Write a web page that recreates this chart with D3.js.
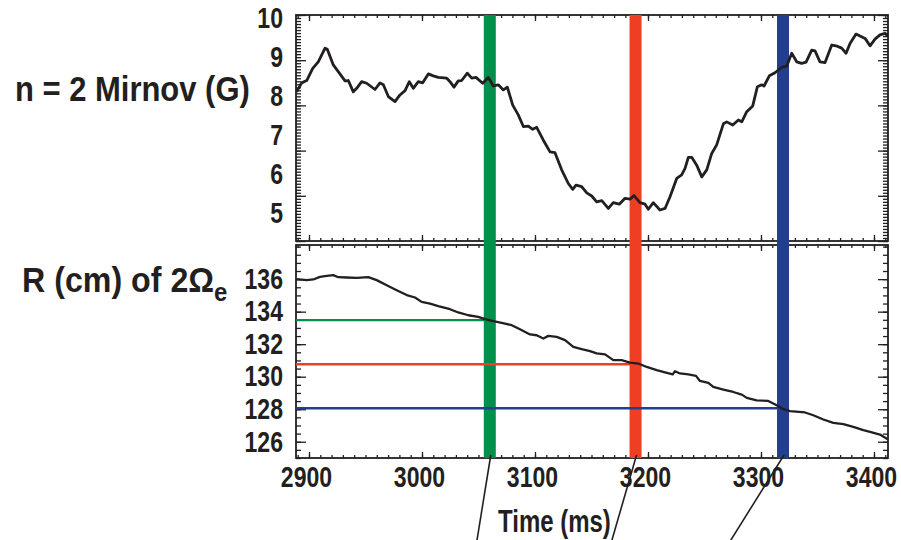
<!DOCTYPE html>
<html>
<head>
<meta charset="utf-8">
<script src="https://cdn.jsdelivr.net/npm/d3@7"></script>
<style>
  body { margin: 0; background: #fff; }
  text { font-family: "Liberation Sans", Arial, sans-serif; font-weight: bold; fill: #231f20; }
</style>
</head>
<body>
<div class="chartCont"></div>
<script>
var w = 901;
var h = 540;

// n = 2 Mirnov amplitude (G)
const mirTime = [2889,2893.5,2898,2903.3,2908.2,2914.2,2916.2,2921.5,2925.9,2931.9,2934.8,2939.2,2942.2,2946.6,2951.1,2958.4,2962.8,2965.8,2970.2,2976.1,
  2980.5,2985,2988.8,2992.3,2996.7,3000.6,3005.6,3010,3014.4,3021.9,3024.8,3028.3,3032.1,3035.1,3040.1,3044,3047.8,3053.7,3058.7,3063.1,
  3067.5,3072,3075.5,3080.3,3085.2,3089.7,3094.1,3098,3101.5,3107.4,3113.3,3117.7,3123.6,3129.5,3133.4,3136.3,3141.3,3145.8,3150.2,3154.6,
  3159.1,3164.9,3169.3,3174.6,3179.7,3184.1,3187.6,3192.9,3197.4,3200.3,3204.7,3210.6,3215.1,3219.5,3225.4,3229.8,3232.8,3235.7,3238.7,3243.1,
  3247.6,3252,3256.4,3260.8,3266.7,3269.7,3275,3280,3283,3287.4,3292.7,3296.8,3300.6,3302.7,3307.4,3312.4,3318.3,3322.8,3327.2,3331.6,
  3336,3339.9,3344.9,3347.8,3352.2,3356.7,3362.6,3366.4,3371.4,3375.3,3378.8,3384.1,3387.6,3392.1,3396.5,3400.9,3405.3,3409.8,3412.1];
const mirValue = [8.11,8.34,8.40,8.71,8.88,9.23,9.20,8.80,8.63,8.39,8.40,8.11,8.20,8.37,8.33,8.17,8.34,8.29,7.99,7.86,
  8.03,8.14,8.37,8.20,8.37,8.34,8.57,8.52,8.48,8.46,8.37,8.23,8.39,8.40,8.59,8.46,8.48,8.33,8.48,8.26,
  8.29,8.16,8.23,7.77,7.52,7.22,7.23,7.15,7.20,6.87,6.57,6.55,6.11,5.76,5.61,5.72,5.68,5.52,5.44,5.29,
  5.32,5.12,5.27,5.23,5.38,5.36,5.45,5.27,5.23,5.10,5.27,5.08,5.12,5.42,5.89,5.98,6.15,6.43,6.43,6.23,
  5.93,6.11,6.53,6.75,7.29,7.34,7.26,7.39,7.34,7.60,7.75,8.24,8.29,8.26,8.52,8.60,8.74,8.77,9.10,8.88,
  8.84,8.87,9.18,9.16,8.88,8.86,9.31,9.29,9.23,9.10,9.35,9.59,9.54,9.48,9.29,9.46,9.57,9.61,9.54];

// R (cm) of 2 Omega_e resonance
const resTime = [2889,2898,2903.8,2909.7,2915.7,2921.5,2925.9,2933.4,2942.2,2952.5,2959.9,2968.8,2977.6,2986.5,2993.8,2999.7,3007.1,3014.4,3024.8,3032.1,
  3041,3049.8,3055.8,3063.1,3070.5,3079.4,3086.7,3095.6,3101.5,3107.4,3111.8,3119.2,3126.6,3133.9,3141.3,3148.7,3154.6,3162,3169.3,3176.7,
  3184.1,3191.4,3198.9,3207.7,3215.1,3221.9,3223.9,3228.3,3235.7,3242.5,3246,3253.4,3257.8,3266.7,3275.5,3283,3287.4,3296.2,3306.5,3313.9,
  3319.8,3325.7,3339,3346.3,3355.2,3364,3372.9,3381.7,3390.6,3396.5,3405.3,3412.1];
const resValue = [136.00,135.94,135.98,136.14,136.20,136.25,136.12,136.10,136.08,136.12,135.94,135.63,135.32,135.02,134.87,134.60,134.50,134.34,134.15,133.95,
  133.78,133.68,133.54,133.42,133.31,133.17,132.92,132.60,132.55,132.35,132.51,132.45,132.25,131.83,131.69,131.57,131.43,131.37,131.02,131.02,
  130.87,130.81,130.60,130.40,130.26,130.14,130.34,130.20,130.14,130.05,129.74,129.62,129.37,129.21,129.06,128.90,128.70,128.55,128.51,128.25,
  128.00,127.88,127.80,127.63,127.37,127.16,127.08,126.91,126.71,126.60,126.44,126.15];

// marked times and the resonance radius read at each
const markTime = [3060, 3189, 3319.5];
const markR = [133.48, 130.77, 128.06];
const markColor = ["#00904c", "#f03e24", "#233e8c"];

const xTicks = [2900, 3000, 3100, 3200, 3300, 3400];
const topTicks = [5, 6, 7, 8, 9, 10];
const botTicks = [126, 128, 130, 132, 134, 136];

var L = 296, R = 888, T1 = 15, B1 = 241, T2 = 245, B2 = 458;

var svg = d3.select(".chartCont").append("svg")
  .attr("width", w)
  .attr("height", h);

var x = d3.scaleLinear().domain([2888.5, 3412.4]).range([L, R]);
var yTop = d3.scaleLinear().domain([4.26, 10.08]).range([B1 + 1, T1]);
var yTopTick = d3.scaleLinear().domain([5, 10]).range([B1, T1]);
var yBot = d3.scaleLinear().domain([125.0, 138.1]).range([B2, T2]);

function steps(a, b, s) {
  var n = Math.round((b - a) / s);
  return d3.range(n + 1).map(i => a + i * s);
}
var xMinor = steps(2890, 3410, 10);

function tickAxis(axis, scale, vals, len, tx, ty) {
  svg.append("g")
    .attr("transform", "translate(" + tx + "," + ty + ")")
    .call(axis(scale).tickValues(vals).tickSize(-len).tickFormat("").tickSizeOuter(0))
    .call(g => g.select(".domain").remove())
    .selectAll("line").attr("stroke", "#231f20").attr("stroke-width", 1.3);
}

// frames with inward ticks
function panel(yTick, yMajor, yMinor, top, bot) {
  tickAxis(d3.axisLeft, yTick, yMinor, 5, L, 0);
  tickAxis(d3.axisLeft, yTick, yMajor, 10, L, 0);
  tickAxis(d3.axisRight, yTick, yMinor, 5, R, 0);
  tickAxis(d3.axisRight, yTick, yMajor, 10, R, 0);
  tickAxis(d3.axisBottom, x, xMinor, 3, 0, bot);
  tickAxis(d3.axisBottom, x, xTicks, 6, 0, bot);
  tickAxis(d3.axisTop, x, xMinor, 3, 0, top);
  tickAxis(d3.axisTop, x, xTicks, 6, 0, top);
  svg.append("rect")
    .attr("x", L).attr("y", top)
    .attr("width", R - L).attr("height", bot - top)
    .attr("fill", "none").attr("stroke", "#231f20").attr("stroke-width", 1.8);
}
panel(yTopTick, topTicks, steps(5, 10, 1 / 15), T1, B1);
panel(yBot, botTicks, steps(125, 138, 0.5), T2, B2);

// colored time markers
svg.selectAll(".bar")
  .data(markTime)
  .enter()
  .append("rect")
  .attr("class", "bar")
  .attr("x", d => x(d) - 6)
  .attr("y", T1)
  .attr("width", 12)
  .attr("height", B2 - T1)
  .attr("fill", (d, i) => markColor[i]);

// leader lines below the plot
const leaderDx = [-14, -25, -54];
svg.selectAll(".leader")
  .data(markTime)
  .enter()
  .append("line")
  .attr("x1", d => x(d) + 1)
  .attr("y1", B2 - 3)
  .attr("x2", (d, i) => x(d) + 1 + leaderDx[i] * 1.1)
  .attr("y2", B2 + 92)
  .attr("stroke", "#231f20")
  .attr("stroke-width", 1.6);

// horizontal lines at resonance radius
svg.selectAll(".hline")
  .data(markR)
  .enter()
  .append("line")
  .attr("x1", L)
  .attr("x2", (d, i) => x(markTime[i]))
  .attr("y1", d => yBot(d))
  .attr("y2", d => yBot(d))
  .attr("stroke", (d, i) => markColor[i])
  .attr("stroke-width", 2.4);

var mirLine = d3.line().x((d, i) => x(mirTime[i])).y(d => yTop(d));
svg.append("path")
  .datum(mirValue)
  .attr("d", mirLine)
  .attr("fill", "none")
  .attr("stroke", "#231f20")
  .attr("stroke-width", 2.8)
  .attr("stroke-linejoin", "round");

var resLine = d3.line().x((d, i) => x(resTime[i])).y(d => yBot(d));
svg.append("path")
  .datum(resValue)
  .attr("d", resLine)
  .attr("fill", "none")
  .attr("stroke", "#231f20")
  .attr("stroke-width", 2.3)
  .attr("stroke-linejoin", "round");

// tick labels, narrowed to look like the condensed face of the original
function labels(axis, scale, vals, tx, ty) {
  svg.append("g")
    .attr("transform", "translate(" + tx + "," + ty + ")")
    .call(axis(scale).tickValues(vals).tickSize(0).tickPadding(0).tickFormat(d => String(d)))
    .call(g => g.select(".domain").remove())
    .selectAll("text")
    .attr("font-size", 29)
    .attr("font-family", null)
    .attr("fill", null)
    .attr("transform", "scale(0.795,1)");
}
labels(d3.axisLeft, yTop, topTicks, 283, 0);
labels(d3.axisLeft, yBot, botTicks, 283, 0);
labels(d3.axisBottom, x, xTicks, -3, B2 + 8);

function title(str, tx, ty, size, sx) {
  return svg.append("text")
    .attr("transform", "translate(" + tx + "," + ty + ") scale(" + sx + ",1)")
    .attr("font-size", size)
    .text(str);
}
title("n = 2 Mirnov (G)", 15, 101, 35, 0.885);
title("R (cm) of 2Ω", 22, 292, 35, 0.92)
  .append("tspan").attr("font-size", 26).attr("dy", 9).text("e");
title("Time (ms)", 498, 532, 32, 0.75);
</script>
</body>
</html>
